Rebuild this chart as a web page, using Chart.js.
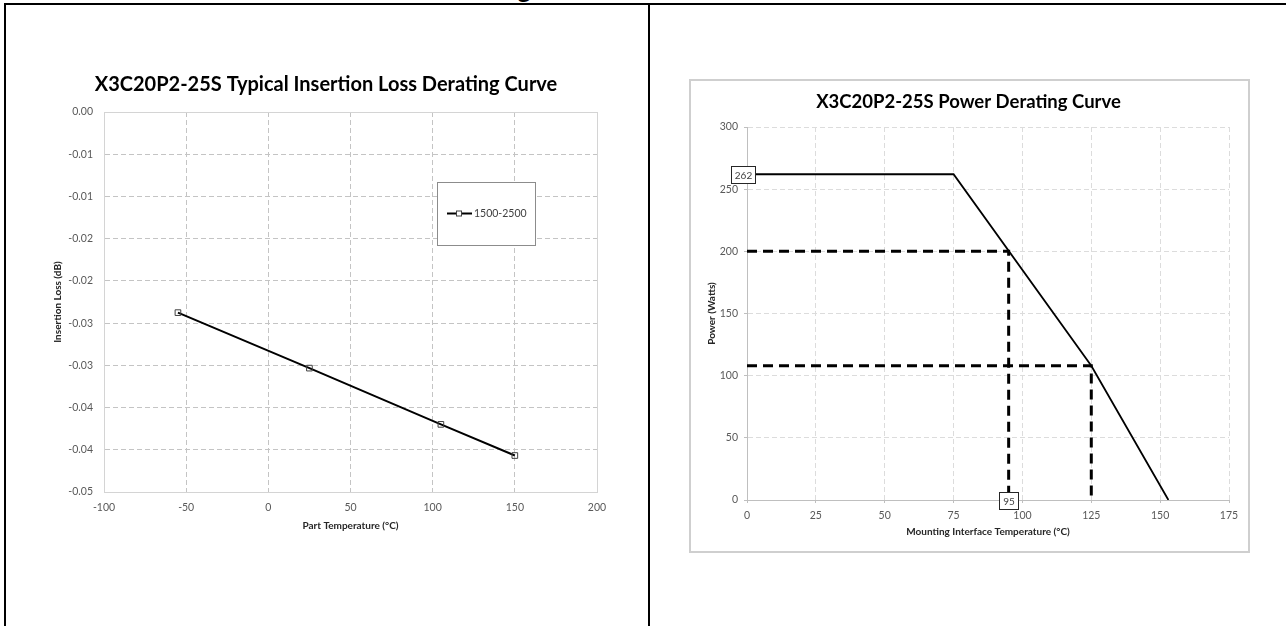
<!DOCTYPE html>
<html>
<head>
<meta charset="utf-8">
<script src="https://cdn.jsdelivr.net/npm/chart.js@4.4.1/dist/chart.umd.min.js"></script>
<style>
  html, body { margin: 0; padding: 0; background: #fff; }
  body { width: 1286px; height: 626px; position: relative; overflow: hidden; font-family: Lato, "Open Sans", sans-serif; }
  .rule { position: absolute; background: #000; z-index: 3; }
  .cut { position: absolute; top: -25px; right: 755px; font-weight: bold; font-size: 26px; line-height: 1; white-space: nowrap; z-index: 2; color: #000; }
  #lossCanvas { position: absolute; left: 6px; top: 6px; }
  #powerBox { position: absolute; left: 689px; top: 79px; width: 557px; height: 470px; border: 2px solid #cfcfcf; }
  #powerCanvas { position: absolute; left: 0; top: 0; }
</style>
</head>
<body>
<div class="cut">Derating</div>
<div class="rule" style="left:4px; top:3px; width:1282px; height:2px;"></div>
<div class="rule" style="left:4px; top:3px; width:2px; height:623px;"></div>
<div class="rule" style="left:648px; top:3px; width:2px; height:623px;"></div>

<canvas id="lossCanvas" width="640" height="614"></canvas>
<div id="powerBox"><canvas id="powerCanvas" width="557" height="470"></canvas></div>

<script>
// ---- insertion loss chart (left) ----
const lossTemps = [-55, 25, 105, 150];
const lossValues = [-0.0264, -0.0337, -0.0411, -0.0452];
const lossSeriesName = '1500-2500';
const lossXTicks = [-100, -50, 0, 50, 100, 150, 200];
const lossYTicks = [0, -0.00556, -0.01111, -0.01667, -0.02222, -0.02778, -0.03333, -0.03889, -0.04444, -0.05];

// ---- power derating chart (right) ----
const powerTemps = [0, 75, 125, 153];
const powerWatts = [262, 262, 108, 0];
const guideTemps = [95, 125];
const guideWatts = [200, 108];
const powerXTicks = [0, 25, 50, 75, 100, 125, 150, 175];
const powerYTicks = [0, 50, 100, 150, 200, 250, 300];
const calloutTemps = [0, 95];
const calloutWatts = [262, 0];
const calloutLabels = ['262', '95'];

Chart.defaults.font.family = 'Lato, "Open Sans", sans-serif';
Chart.defaults.color = '#595959';
Chart.defaults.animation = false;

const tickFont = { size: 10.5 };
const axisTitleFont = { size: 10, weight: 'bold' };

function useTicks(list) {
    return scale => { scale.ticks = list.map(v => ({ value: v })); };
}

// chart title drawn at a fixed spot of the canvas
const titlePlugin = {
    id: 'fixedTitle',
    afterDraw(chart, args, opts) {
        const ctx = chart.ctx;
        ctx.save();
        ctx.font = `bold ${opts.size}px Lato, "Open Sans", sans-serif`;
        ctx.fillStyle = '#000';
        ctx.textAlign = 'center';
        ctx.textBaseline = 'middle';
        ctx.fillText(opts.text, opts.x, opts.y);
        ctx.restore();
    }
};

// solid frame round the plot area (left chart)
const framePlugin = {
    id: 'plotFrame',
    beforeDatasetsDraw(chart) {
        const { ctx, chartArea: a } = chart;
        ctx.save();
        ctx.strokeStyle = '#d4d4d4';
        ctx.lineWidth = 1;
        const l = Math.round(a.left) + 0.5, t = Math.round(a.top) + 0.5;
        const r = Math.round(a.right) + 0.5, b = Math.round(a.bottom) + 0.5;
        ctx.strokeRect(l, t, r - l, b - t);
        ctx.restore();
    }
};

// boxed legend placed inside the plot (left chart)
const boxLegendPlugin = {
    id: 'boxLegend',
    afterDatasetsDraw(chart, args, opts) {
        const ctx = chart.ctx;
        const ds = chart.data.datasets[0];
        const { x, y, w, h } = opts;
        ctx.save();
        ctx.fillStyle = '#fff';
        ctx.fillRect(x, y, w, h);
        ctx.strokeStyle = '#8c8c8c';
        ctx.lineWidth = 1;
        ctx.strokeRect(x + 0.5, y + 0.5, w, h);
        const my = y + h / 2;
        ctx.strokeStyle = ds.borderColor;
        ctx.lineWidth = ds.borderWidth;
        ctx.beginPath();
        ctx.moveTo(x + 10, my);
        ctx.lineTo(x + 35, my);
        ctx.stroke();
        ctx.fillStyle = '#fff';
        ctx.strokeStyle = ds.pointBorderColor;
        ctx.lineWidth = 1;
        ctx.fillRect(x + 19.5, my - 2.5, 5, 5);
        ctx.strokeRect(x + 19.5, my - 2.5, 5, 5);
        ctx.font = '10.5px Lato, "Open Sans", sans-serif';
        ctx.fillStyle = '#404040';
        ctx.textAlign = 'left';
        ctx.textBaseline = 'middle';
        ctx.fillText(ds.label, x + 37, my + 0.5);
        ctx.restore();
    }
};

// boxed value callouts (right chart)
const calloutPlugin = {
    id: 'callouts',
    afterDatasetsDraw(chart, args, opts) {
        const ctx = chart.ctx;
        const xs = chart.scales.x, ys = chart.scales.y;
        ctx.save();
        ctx.font = '10px Lato, "Open Sans", sans-serif';
        ctx.textAlign = 'center';
        ctx.textBaseline = 'middle';
        calloutLabels.forEach((txt, i) => {
            const px = xs.getPixelForValue(calloutTemps[i]) + opts.shift[i];
            const py = ys.getPixelForValue(calloutWatts[i]);
            const w = Math.round(ctx.measureText(txt).width + 7);
            const h = 17;
            const bx = Math.round(px - w / 2) + 0.5, by = Math.round(py - h / 2) + 0.5;
            ctx.fillStyle = '#fff';
            ctx.fillRect(bx, by, w, h);
            ctx.strokeStyle = '#262626';
            ctx.lineWidth = 1;
            ctx.strokeRect(bx, by, w, h);
            ctx.fillStyle = '#404040';
            ctx.fillText(txt, bx + w / 2, by + h / 2 + 0.5);
        });
        ctx.restore();
    }
};

function showLossChart() {
    const ctx = document.getElementById('lossCanvas');
    new Chart(ctx, {
        type: 'line',
        data: {
            datasets: [{
                label: lossSeriesName,
                data: lossTemps.map((t, i) => ({ x: t, y: lossValues[i] })),
                borderColor: '#000',
                borderWidth: 2,
                pointStyle: 'rect',
                pointRadius: 4,
                pointBorderWidth: 1,
                pointBorderColor: '#404040',
                pointBackgroundColor: 'rgba(255,255,255,0)',
                tension: 0
            }]
        },
        options: {
            responsive: false,
            devicePixelRatio: 1,
            layout: { padding: { left: 34, right: 49, top: 106, bottom: 78 } },
            plugins: {
                legend: { display: false },
                tooltip: { enabled: false },
                fixedTitle: { text: 'X3C20P2-25S Typical Insertion Loss Derating Curve', x: 320, y: 79, size: 20 },
                boxLegend: { x: 431, y: 176, w: 98, h: 63 }
            },
            scales: {
                x: {
                    type: 'linear',
                    min: -100,
                    max: 200,
                    afterBuildTicks: useTicks(lossXTicks),
                    afterFit: s => { s.height = 50; },
                    grid: { color: '#c4c4c4', drawTicks: false },
                    border: { color: '#d4d4d4', dash: [5, 3] },
                    ticks: { font: tickFont, padding: 9, autoSkip: false, maxRotation: 0, callback: v => String(v) },
                    title: { display: true, text: 'Part Temperature (°C)', font: axisTitleFont, color: '#262626', padding: { top: 0, bottom: 10 } }
                },
                y: {
                    type: 'linear',
                    min: -0.05,
                    max: 0,
                    afterBuildTicks: useTicks(lossYTicks),
                    afterFit: s => { s.width = 64; },
                    grid: { color: '#c4c4c4', drawTicks: false },
                    border: { color: '#d4d4d4', dash: [5, 3] },
                    ticks: { font: tickFont, padding: 11, autoSkip: false, callback: v => v.toFixed(2) },
                    title: { display: true, text: 'Insertion Loss (dB)', font: axisTitleFont, color: '#262626', padding: { top: 12, bottom: 0 } }
                }
            }
        },
        plugins: [titlePlugin, framePlugin, boxLegendPlugin]
    });
}

function showPowerChart() {
    const ctx = document.getElementById('powerCanvas');
    const guides = guideTemps.map((t, i) => ({
        label: 'guide ' + t,
        data: [{ x: 0, y: guideWatts[i] }, { x: t, y: guideWatts[i] }, { x: t, y: 0 }],
        borderColor: '#000',
        borderWidth: 3,
        borderDash: [10, 6],
        pointRadius: 0,
        tension: 0
    }));
    new Chart(ctx, {
        type: 'line',
        data: {
            datasets: [{
                label: 'Power',
                data: powerTemps.map((t, i) => ({ x: t, y: powerWatts[i] })),
                borderColor: '#000',
                borderWidth: 1.8,
                pointRadius: 0,
                tension: 0
            }, ...guides]
        },
        options: {
            responsive: false,
            devicePixelRatio: 1,
            layout: { padding: { left: 0, right: 19, top: 46, bottom: 6 } },
            plugins: {
                legend: { display: false },
                tooltip: { enabled: false },
                fixedTitle: { text: 'X3C20P2-25S Power Derating Curve', x: 277.5, y: 21, size: 18.5 },
                callouts: { shift: [-4, 0] }
            },
            scales: {
                x: {
                    type: 'linear',
                    min: 0,
                    max: 175,
                    afterBuildTicks: useTicks(powerXTicks),
                    afterFit: s => { s.height = 45; },
                    grid: { color: '#dcdcdc', tickColor: '#bfbfbf', tickLength: 3 },
                    border: { color: '#bfbfbf', dash: [5, 3] },
                    ticks: { font: tickFont, padding: 6, autoSkip: false, maxRotation: 0 },
                    title: { display: true, text: 'Mounting Interface Temperature (°C)', font: axisTitleFont, color: '#262626', padding: { top: 0, bottom: 7.5 } }
                },
                y: {
                    type: 'linear',
                    min: 0,
                    max: 300,
                    afterBuildTicks: useTicks(powerYTicks),
                    afterFit: s => { s.width = 56; },
                    grid: { color: '#dcdcdc', tickColor: '#bfbfbf', tickLength: 3 },
                    border: { color: '#bfbfbf', dash: [5, 3] },
                    ticks: { font: tickFont, padding: 6, autoSkip: false },
                    title: { display: true, text: 'Power (Watts)', font: axisTitleFont, color: '#262626', padding: { top: 15, bottom: 0 } }
                }
            }
        },
        plugins: [titlePlugin, calloutPlugin]
    });
}

showLossChart();
showPowerChart();
</script>
</body>
</html>
